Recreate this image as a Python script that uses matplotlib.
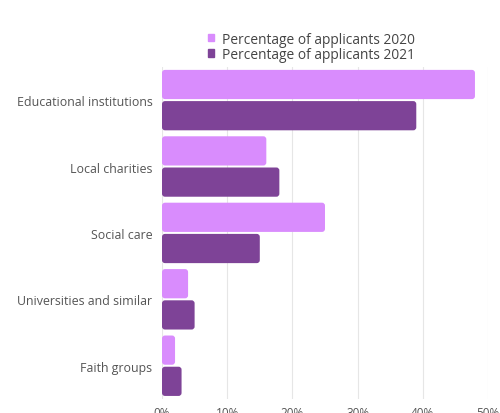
import matplotlib
matplotlib.use("Agg")
import matplotlib.pyplot as plt
from matplotlib.patches import FancyBboxPatch
import numpy as np

plt.rcParams['font.family'] = ['Open Sans', 'DejaVu Sans']

categories = ["Educational institutions", "Local charities", "Social care",
              "Universities and similar", "Faith groups"]
pct_2020 = [48, 16, 25, 4, 2]
pct_2021 = [39, 18, 15, 5, 3]
series_labels = ["Percentage of applicants 2020", "Percentage of applicants 2021"]
tick_values = [0, 10, 20, 30, 40, 50]
tick_labels = ["0%", "10%", "20%", "30%", "40%", "50%"]

color_2020 = "#d98cfd"
color_2021 = "#7e4397"

fig = plt.figure(figsize=(5.0, 4.14), dpi=100)
ax = fig.add_axes([0.324, 0.034, 0.652, 0.802])

y = np.arange(len(categories))
h = 0.44
off = 0.235
bars20 = ax.barh(y - off, pct_2020, height=h, color=color_2020, zorder=3)
bars21 = ax.barh(y + off, pct_2021, height=h, color=color_2021, zorder=3)

ax.set_xlim(0, 50)
ax.set_ylim(len(categories) - 0.5, -0.5)

# swap the square bars for slightly rounded ones of identical extent
fig.canvas.draw()
px_per_x = ax.bbox.width / 50.0
px_per_y = ax.bbox.height / len(categories)
r_px = 3.0
for bars in (bars20, bars21):
    for b in bars:
        x0, y0 = b.get_x(), b.get_y()
        w, hh = b.get_width(), b.get_height()
        b.set_visible(False)
        p = FancyBboxPatch((x0, y0), w, hh,
                           boxstyle=f"round,pad=0,rounding_size={r_px / px_per_x}",
                           mutation_aspect=px_per_x / px_per_y,
                           facecolor=b.get_facecolor(), edgecolor="none", zorder=3)
        ax.add_patch(p)

ax.set_xticks(tick_values)
ax.set_xticklabels(tick_labels, fontsize=8.5, color="#555555")
ax.set_yticks(y)
ax.set_yticklabels(categories, fontsize=8.9, color="#555555")
ax.tick_params(axis="both", length=0)
ax.tick_params(axis="y", pad=7)
ax.tick_params(axis="x", pad=5)
ax.grid(axis="x", color="#e6e6e6", linewidth=0.8, zorder=0)
for s in ax.spines.values():
    s.set_visible(False)

handles = [plt.Rectangle((0, 0), 1, 1, color=color_2020),
           plt.Rectangle((0, 0), 1, 1, color=color_2021)]
fig.legend(handles, series_labels, loc="upper left", bbox_to_anchor=(0.402, 0.938),
           frameon=False, fontsize=9.9, handlelength=0.45, handleheight=0.45,
           handletextpad=0.55, labelspacing=0.02, borderpad=0,
           labelcolor="#444444")

fig.savefig("out.png", dpi=100)
